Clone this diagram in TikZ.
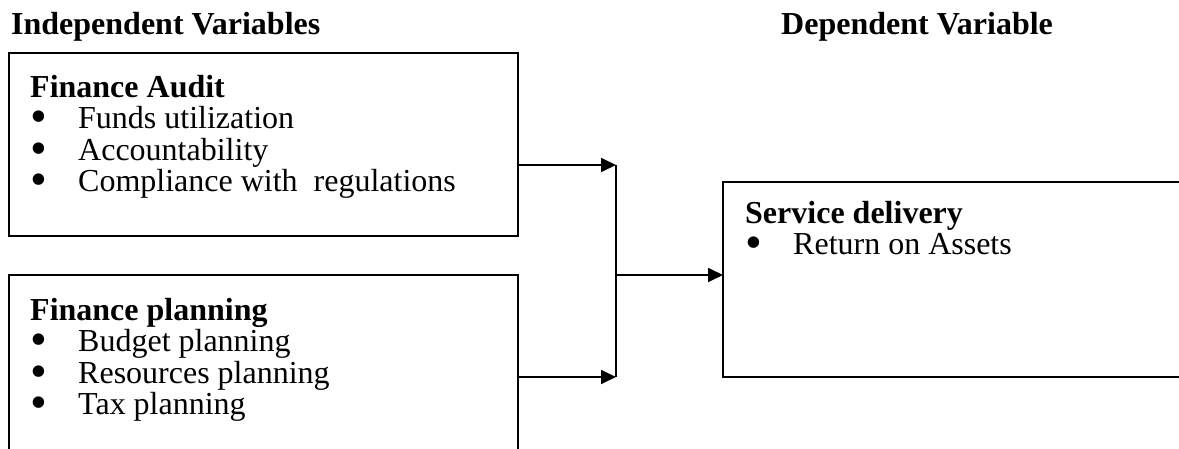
\documentclass[tikz,border=0pt]{standalone}
\usepackage{fontspec}
\setmainfont{Liberation Serif}
\usetikzlibrary{arrows.meta,positioning}
\newcommand{\bitem}[1]{\makebox[48pt][l]{\smash{\raisebox{-0.12em}{\scalebox{1.5}{\textbullet}}}}#1}

\begin{document}
\begin{tikzpicture}[x=1pt, y=-1pt,
  every node/.style={font=\fontsize{32}{31.5}\selectfont},
  box/.style={draw, line width=1.8pt, inner sep=0pt, outer sep=0pt, anchor=north west},
  boxtext/.style={anchor=north west, align=left, inner sep=0pt},
  heading/.style={font=\fontsize{32}{31.5}\selectfont\bfseries, anchor=base west, inner sep=0pt},
  arrow/.style={-{Triangle[length=15pt,width=14pt]}, line width=1.8pt}
]
\useasboundingbox (0,0) rectangle (1179,449);
\node[heading] (indep) at (11,35) {Independent Variables};
\node[heading] (dep) at (781,35) {Dependent Variable};
\node[box, minimum width=509pt, minimum height=183pt] (audit) at (9,53) {};
\node[box, minimum width=509pt, minimum height=210pt] (planning) at (9,275) {};
\node[box, minimum width=480pt, minimum height=195pt] (delivery) at (723,182) {};
\node[boxtext] (audittext) at ([shift={(21,22)}]audit.north west)
  {\textbf{Finance Audit}\\ \bitem{Funds utilization}\\ \bitem{Accountability}\\
   \bitem{Compliance with\ \ regulations}};
\node[boxtext] (planningtext) at ([shift={(21,23)}]planning.north west)
  {\textbf{Finance planning}\\ \bitem{Budget planning}\\ \bitem{Resources planning}\\
   \bitem{Tax planning}};
\node[boxtext] (deliverytext) at ([shift={(22,19)}]delivery.north west)
  {\textbf{Service delivery}\\ \bitem{Return on Assets}};
\coordinate (jtop) at (616,165);
\coordinate (jbot) at (616,377);
\coordinate (jmid) at (616,275);
\draw[arrow] (jtop -| audit.east) -- (jtop);
\draw[arrow] (jbot -| planning.east) -- (jbot);
\draw[line width=1.8pt] (jtop) -- (jbot);
\draw[arrow] (jmid) -- (jmid -| delivery.west);
\end{tikzpicture}
\end{document}
